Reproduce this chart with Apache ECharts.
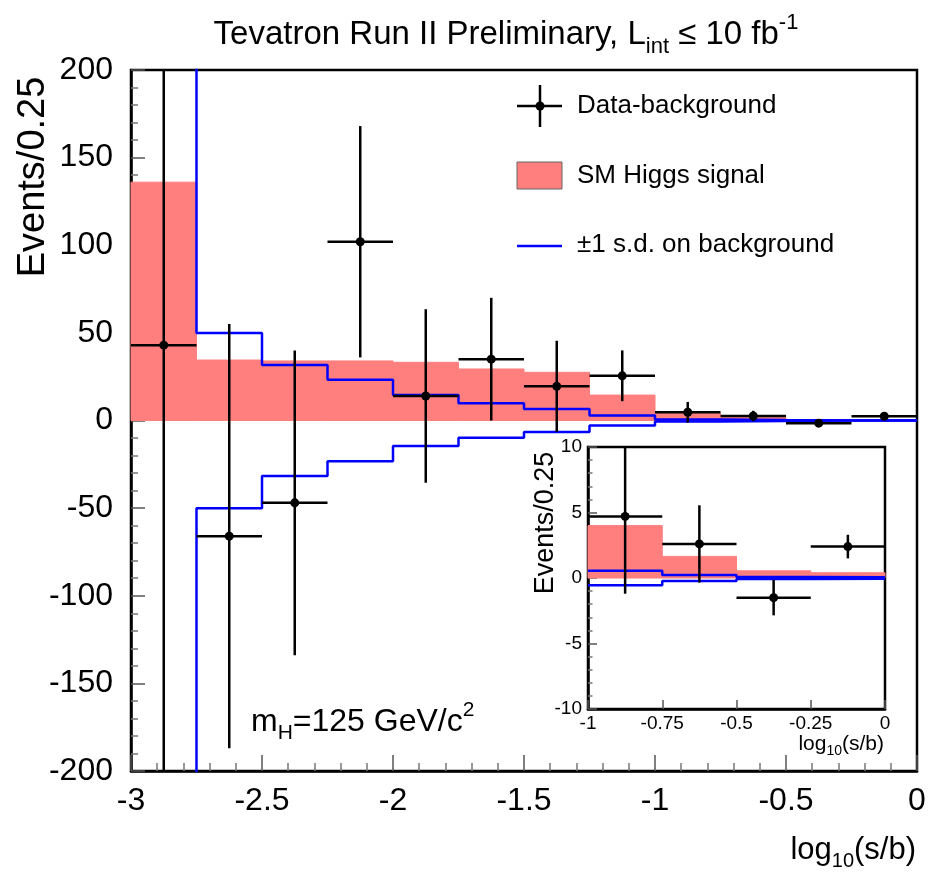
<!DOCTYPE html>
<html><head><meta charset="utf-8">
<script src="https://cdn.jsdelivr.net/npm/echarts@6/dist/echarts.min.js"></script>
<style>html,body{margin:0;padding:0;background:#fff}#c{width:929px;height:874px}</style>
</head><body><div id="c"></div>
<script>
// ---- data ----
const binEdges = [-3, -2.75, -2.5, -2.25, -2, -1.75, -1.5, -1.25, -1, -0.75, -0.5, -0.25, 0];
const signal   = [136, 34.5, 34, 34, 33.2, 29.4, 27.5, 14.5, 4.0, 1.65, 0.55, 0.4];
const bkgSd    = [300, 50, 31.7, 23.3, 14.5, 9.8, 6.5, 2.8, 0.55, 0.23, 0.07, 0.05];
const dataVal  = [43, -66, -47, 102, 14, 35, 19.5, 25.5, 4.7, 2.6, -1.5, 2.4];
const dataErr  = [250, 121, 87, 66, 49.5, 35, 26, 14.5, 5.9, 2.95, 1.35, 0.9];
const mainXRange = [-3, 0], mainYRange = [-200, 200];
const insetXRange = [-1, 0], insetYRange = [-10, 10];

const FONT = 'Liberation Sans, Helvetica, Arial, sans-serif';
const RED = '#ff7f7f', BLUE = '#0000ff';

function bins(fromX) {
  const out = [];
  for (let i = 0; i < signal.length; i++) {
    if (binEdges[i] >= fromX) out.push(i);
  }
  return out;
}
function sigData(fromX) { return bins(fromX).map(i => [binEdges[i], binEdges[i + 1], signal[i]]); }
function errData(fromX) { return bins(fromX).map(i => [binEdges[i], binEdges[i + 1], dataVal[i], dataErr[i]]); }
function stepData(fromX, sign) {
  const idx = bins(fromX);
  const d = idx.map(i => [binEdges[i], sign * bkgSd[i]]);
  const last = idx[idx.length - 1];
  d.push([binEdges[last + 1], sign * bkgSd[last]]);
  return d;
}
function clampY(v, cs) { return Math.max(cs.y, Math.min(cs.y + cs.height, v)); }

function renderSignal(params, api) {
  const cs = params.coordSys;
  const p1 = api.coord([api.value(0), api.value(2)]);
  const p2 = api.coord([api.value(1), 0]);
  const y1 = clampY(Math.min(p1[1], p2[1]), cs), y2 = clampY(Math.max(p1[1], p2[1]), cs);
  return { type: 'rect', shape: { x: p1[0], y: y1, width: p2[0] - p1[0], height: y2 - y1 },
    style: { fill: RED, stroke: RED, lineWidth: 1 } };
}
function makeErrRender(r, lw) {
  return function (params, api) {
    const cs = params.coordSys;
    const lo = api.value(0), hi = api.value(1), v = api.value(2), e = api.value(3);
    const xc = (lo + hi) / 2;
    const pL = api.coord([lo, v]), pR = api.coord([hi, v]);
    const pT = api.coord([xc, v + e]), pB = api.coord([xc, v - e]);
    const st = { stroke: '#000', lineWidth: lw };
    const ch = [];
    const inY = pL[1] >= cs.y && pL[1] <= cs.y + cs.height;
    ch.push({ type: 'line', shape: { x1: pT[0], y1: clampY(pT[1], cs), x2: pB[0], y2: clampY(pB[1], cs) }, style: st });
    if (inY) {
      ch.push({ type: 'line', shape: { x1: pL[0], y1: pL[1], x2: pR[0], y2: pR[1] }, style: st });
      ch.push({ type: 'circle', shape: { cx: pT[0], cy: pL[1], r: r }, style: { fill: '#000' } });
    }
    return { type: 'group', children: ch };
  };
}

function xAxisCfg(grid, range, interval, fs, margin, tickLen, minor) {
  return {
    gridIndex: grid, type: 'value', min: range[0], max: range[1], interval: interval,
    axisLine: { show: true, onZero: false, lineStyle: { color: '#000', width: 2.5 } },
    axisTick: { show: true, inside: true, length: tickLen, lineStyle: { color: '#555', width: 1.5 } },
    minorTick: { show: minor, splitNumber: 5, length: tickLen / 2, lineStyle: { color: '#777', width: 1.5 } },
    splitLine: { show: false }, minorSplitLine: { show: false },
    axisLabel: { fontSize: fs, fontFamily: FONT, color: '#000', margin: margin }
  };
}
function yAxisCfg(grid, range, interval, fs, margin, tickLen) {
  return {
    gridIndex: grid, type: 'value', min: range[0], max: range[1], interval: interval,
    axisLine: { show: true, onZero: false, lineStyle: { color: '#000', width: 2.5 } },
    axisTick: { show: true, inside: true, length: tickLen, lineStyle: { color: '#555', width: 1.5 } },
    minorTick: { show: true, splitNumber: 5, length: tickLen / 2, lineStyle: { color: '#777', width: 1.5 } },
    splitLine: { show: false }, minorSplitLine: { show: false },
    axisLabel: { fontSize: fs, fontFamily: FONT, color: '#000', margin: margin }
  };
}

const chart = echarts.init(document.getElementById('c'), null, { renderer: 'canvas' });
const option = {
  animation: false,
  backgroundColor: '#fff',
  grid: [
    { left: 131, top: 70, width: 786, height: 701, show: true, borderColor: '#000', borderWidth: 2.5, backgroundColor: 'transparent' },
    { left: 588, top: 447, width: 297, height: 262, show: true, borderColor: '#000', borderWidth: 2.5, backgroundColor: '#fff' }
  ],
  xAxis: [
    xAxisCfg(0, mainXRange, 0.5, 32, 14, 16, true),
    xAxisCfg(1, insetXRange, 0.25, 19, 5, 9, false)
  ],
  yAxis: [
    yAxisCfg(0, mainYRange, 50, 32, 18, 14),
    yAxisCfg(1, insetYRange, 5, 19, 6, 9)
  ],
  series: [
    { type: 'custom', xAxisIndex: 0, yAxisIndex: 0, z: 1, renderItem: renderSignal, data: sigData(-3) },
    { type: 'line', xAxisIndex: 0, yAxisIndex: 0, z: 2, step: 'end', symbol: 'none', clip: true,
      lineStyle: { color: BLUE, width: 2.5 }, data: stepData(-3, 1) },
    { type: 'line', xAxisIndex: 0, yAxisIndex: 0, z: 2, step: 'end', symbol: 'none', clip: true,
      lineStyle: { color: BLUE, width: 2.5 }, data: stepData(-3, -1) },
    { type: 'custom', xAxisIndex: 0, yAxisIndex: 0, z: 3, renderItem: makeErrRender(4.5, 2.5), data: errData(-3) },

    { type: 'custom', xAxisIndex: 1, yAxisIndex: 1, z: 1, renderItem: renderSignal, data: sigData(-1) },
    { type: 'line', xAxisIndex: 1, yAxisIndex: 1, z: 2, step: 'end', symbol: 'none', clip: true,
      lineStyle: { color: BLUE, width: 2.5 }, data: stepData(-1, 1) },
    { type: 'line', xAxisIndex: 1, yAxisIndex: 1, z: 2, step: 'end', symbol: 'none', clip: true,
      lineStyle: { color: BLUE, width: 2.5 }, data: stepData(-1, -1) },
    { type: 'custom', xAxisIndex: 1, yAxisIndex: 1, z: 3, renderItem: makeErrRender(4.5, 2.5), data: errData(-1) }
  ],
  graphic: [
    { type: 'text', x: 506, y: 35, z: 10, style: {
        text: 'Tevatron Run II Preliminary, L{sub|int} ≤ 10 fb{sup|-1}',
        fontSize: 33, fontFamily: FONT, fill: '#000', align: 'center', verticalAlign: 'middle', lineHeight: 46,
        rich: { sub: { fontSize: 22, fontFamily: FONT, verticalAlign: 'bottom', lineHeight: 22 },
                sup: { fontSize: 22, fontFamily: FONT, verticalAlign: 'top', lineHeight: 22 } } } },
    { type: 'text', x: 34, y: 177, rotation: Math.PI / 2, z: 10, style: {
        text: 'Events/0.25', fontSize: 38, fontFamily: FONT, fill: '#000', align: 'center', verticalAlign: 'middle' } },
    { type: 'text', x: 916, y: 850, z: 10, style: {
        text: 'log{sub|10}(s/b)', fontSize: 31, fontFamily: FONT, fill: '#000', align: 'right', verticalAlign: 'middle', lineHeight: 42,
        rich: { sub: { fontSize: 20, fontFamily: FONT, verticalAlign: 'bottom', lineHeight: 20 } } } },
    { type: 'text', x: 251, y: 722, z: 10, style: {
        text: 'm{sub|H}=125 GeV/c{sup|2}', fontSize: 32, fontFamily: FONT, fill: '#000', align: 'left', verticalAlign: 'middle', lineHeight: 44,
        rich: { sub: { fontSize: 21, fontFamily: FONT, verticalAlign: 'bottom', lineHeight: 21 },
                sup: { fontSize: 21, fontFamily: FONT, verticalAlign: 'top', lineHeight: 21 } } } },
    // inset axis titles
    { type: 'text', x: 546, y: 523, rotation: Math.PI / 2, z: 10, style: {
        text: 'Events/0.25', fontSize: 27, fontFamily: FONT, fill: '#000', align: 'center', verticalAlign: 'middle' } },
    { type: 'text', x: 884, y: 744, z: 10, style: {
        text: 'log{sub|10}(s/b)', fontSize: 21, fontFamily: FONT, fill: '#000', align: 'right', verticalAlign: 'middle', lineHeight: 28,
        rich: { sub: { fontSize: 14, fontFamily: FONT, verticalAlign: 'bottom', lineHeight: 14 } } } },
    // legend
    { type: 'line', z: 10, shape: { x1: 517, y1: 106, x2: 562, y2: 106 }, style: { stroke: '#000', lineWidth: 2.5 } },
    { type: 'line', z: 10, shape: { x1: 540, y1: 85, x2: 540, y2: 127 }, style: { stroke: '#000', lineWidth: 2.5 } },
    { type: 'circle', z: 10, shape: { cx: 540, cy: 106, r: 4.5 }, style: { fill: '#000' } },
    { type: 'text', x: 577, y: 106, z: 10, style: { text: 'Data-background', fontSize: 26, fontFamily: FONT, fill: '#000', verticalAlign: 'middle' } },
    { type: 'rect', z: 10, shape: { x: 517, y: 162, width: 45, height: 27 }, style: { fill: RED, stroke: '#666', lineWidth: 1 } },
    { type: 'text', x: 577, y: 176, z: 10, style: { text: 'SM Higgs signal', fontSize: 26, fontFamily: FONT, fill: '#000', verticalAlign: 'middle' } },
    { type: 'line', z: 10, shape: { x1: 517, y1: 246, x2: 562, y2: 246 }, style: { stroke: BLUE, lineWidth: 2.5 } },
    { type: 'text', x: 577, y: 245, z: 10, style: { text: '±1 s.d. on background', fontSize: 26, fontFamily: FONT, fill: '#000', verticalAlign: 'middle' } }
  ]
};
chart.setOption(option);
</script>
</body></html>
